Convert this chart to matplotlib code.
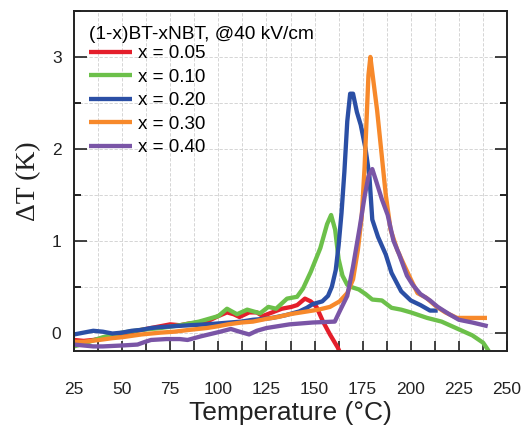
import matplotlib
matplotlib.use("Agg")
import matplotlib.pyplot as plt
from matplotlib.ticker import MultipleLocator

# ---- data ----
t_005 = [25, 30, 35, 40, 50, 60, 70, 75, 80, 85, 90, 95, 100, 104.5, 108, 111, 116, 120, 123, 128,
         133, 138, 141, 145, 148, 151, 154.4, 158, 162, 166]
d_005 = [-0.08, -0.09, -0.08, -0.06, -0.02, 0.03, 0.07, 0.09, 0.08, 0.10, 0.11, 0.13, 0.18, 0.22, 0.20,
         0.17, 0.22, 0.22, 0.18, 0.22, 0.26, 0.28, 0.30, 0.37, 0.34, 0.28, 0.12, -0.02, -0.16, -0.35]

t_010 = [25, 30, 40, 50, 60, 70, 80, 90, 100, 104.5, 109.7, 115, 121.7, 126, 130, 135.7, 140.9, 144,
         148, 153, 156.5, 158.6, 160.7, 162.5, 164.5, 167, 170, 173, 176.5, 180, 185, 190, 195, 200,
         208.5, 216, 225.6, 232, 237.6, 240.5]
d_010 = [-0.15, -0.12, -0.05, 0.0, 0.03, 0.05, 0.08, 0.12, 0.18, 0.26, 0.20, 0.25, 0.21, 0.28, 0.26,
         0.37, 0.39, 0.48, 0.66, 0.92, 1.18, 1.28, 1.12, 0.80, 0.62, 0.52, 0.49, 0.47, 0.42, 0.36, 0.35,
         0.27, 0.25, 0.22, 0.16, 0.12, 0.03, -0.03, -0.11, -0.20]

t_020 = [25, 30, 35, 40, 45, 50, 55, 60, 65, 70, 77, 85, 94, 100, 106, 112, 118, 124, 128, 135, 142,
         146, 149, 154, 157, 159, 161, 162.5, 164, 165.5, 167, 168.5, 170, 172, 174, 176.5, 178.5, 180,
         183, 187, 190, 195, 200, 205, 210, 214]
d_020 = [-0.02, 0.0, 0.02, 0.01, -0.01, 0.0, 0.02, 0.03, 0.05, 0.06, 0.07, 0.08, 0.09, 0.10, 0.11, 0.12,
         0.14, 0.15, 0.16, 0.19, 0.23, 0.27, 0.31, 0.34, 0.40, 0.50, 0.68, 0.95, 1.30, 1.75, 2.30, 2.60,
         2.60, 2.40, 2.26, 2.00, 1.70, 1.23, 1.04, 0.85, 0.65, 0.45, 0.35, 0.30, 0.24, 0.24]

t_030 = [25, 30, 38, 45, 50, 60, 70, 77, 85, 94, 100, 105, 112, 118, 125, 131, 137, 146, 152, 158, 163,
         167, 170, 172.5, 174.5, 176, 177, 178, 179, 180.5, 182.5, 185, 187, 189.5, 193, 196, 200, 203.5,
         208, 213.5, 218, 224, 230, 235, 239.6]
d_030 = [-0.10, -0.10, -0.08, -0.06, -0.05, -0.02, 0.0, 0.01, 0.03, 0.05, 0.07, 0.09, 0.11, 0.12, 0.15,
         0.17, 0.20, 0.23, 0.25, 0.28, 0.34, 0.43, 0.58, 0.90, 1.26, 1.80, 2.30, 2.80, 3.00, 2.75, 2.42,
         1.91, 1.50, 1.12, 0.90, 0.76, 0.58, 0.43, 0.38, 0.28, 0.22, 0.16, 0.16, 0.16, 0.16]

t_040 = [25, 30, 35, 40, 50, 58, 62, 65, 73, 80, 84, 91, 97, 101, 106.5, 111, 116, 120, 125, 137, 149,
         160.5, 163, 167, 170, 173.5, 176, 178, 180, 182, 185, 188, 191, 194, 198, 201, 205, 210, 214,
         220, 225, 232, 240]
d_040 = [-0.13, -0.14, -0.15, -0.15, -0.14, -0.13, -0.10, -0.08, -0.07, -0.07, -0.08, -0.04, -0.01, 0.01,
         0.04, 0.01, -0.02, 0.02, 0.05, 0.09, 0.11, 0.12, 0.23, 0.40, 0.72, 1.15, 1.48, 1.70, 1.78, 1.65,
         1.45, 1.28, 1.00, 0.85, 0.62, 0.52, 0.42, 0.35, 0.28, 0.20, 0.14, 0.11, 0.07]

series = [
    ("x = 0.05", t_005, d_005, "#e41e2b"),
    ("x = 0.10", t_010, d_010, "#6cc04a"),
    ("x = 0.20", t_020, d_020, "#2b4fa5"),
    ("x = 0.30", t_030, d_030, "#f7892b"),
    ("x = 0.40", t_040, d_040, "#7a55a6"),
]

x_ticks = [25, 50, 75, 100, 125, 150, 175, 200, 225, 250]
y_ticks = [0, 1, 2, 3]
legend_title = "(1-x)BT-xNBT, @40 kV/cm"

plt.rcParams['font.family'] = ['Liberation Sans', 'DejaVu Sans']

fig = plt.figure(figsize=(5.27, 4.32), dpi=100)
ax = fig.add_axes([74/527, 1 - 351/432, (507-74)/527, (351-11)/432])

for label, t, d, c in series:
    ax.plot(t, d, color=c, lw=3.1, label=label, solid_joinstyle='round', solid_capstyle='butt')

ax.set_xlim(25, 250)
ax.set_ylim(-0.2, 3.5)
ax.set_xticks(x_ticks)
ax.set_yticks(y_ticks)
ax.xaxis.set_minor_locator(MultipleLocator(12.5))
ax.yaxis.set_minor_locator(MultipleLocator(0.5))

ax.grid(True, which='both', ls=(0, (4, 2)), lw=0.6, color='#cfcfcf')
ax.set_axisbelow(True)

ax.tick_params(axis='x', which='both', direction='in', length=7, width=1.2, top=False,
               labelsize=12.5, pad=22, colors='#222222')
ax.tick_params(axis='y', which='major', direction='in', length=9, width=1.2, right=True,
               labelsize=12.5, pad=9, colors='#222222')
ax.tick_params(axis='y', which='minor', direction='in', length=5, width=1.2, right=True)
for s in ax.spines.values():
    s.set_linewidth(1.4)
    s.set_color('#222222')

ax.set_xlabel("Temperature (\u00b0C)", fontsize=19, color='#222222', labelpad=3)
ax.set_ylabel("\u0394T (K)", fontsize=20, family=['Liberation Serif', 'DejaVu Serif'],
              color='#222222', labelpad=8)

leg = ax.legend(title=legend_title, loc='upper left', bbox_to_anchor=(0.0, 1.0),
                frameon=False, fontsize=13.5, title_fontsize=13.8, handlelength=2.3,
                handletextpad=0.3, labelspacing=0.34, borderpad=0.35, borderaxespad=0.45,
                alignment='left')
for h in leg.get_lines():
    h.set_linewidth(3.1)
try:
    leg._legend_box.sep = 1.5
except Exception:
    pass

fig.savefig("out.png", dpi=100)
